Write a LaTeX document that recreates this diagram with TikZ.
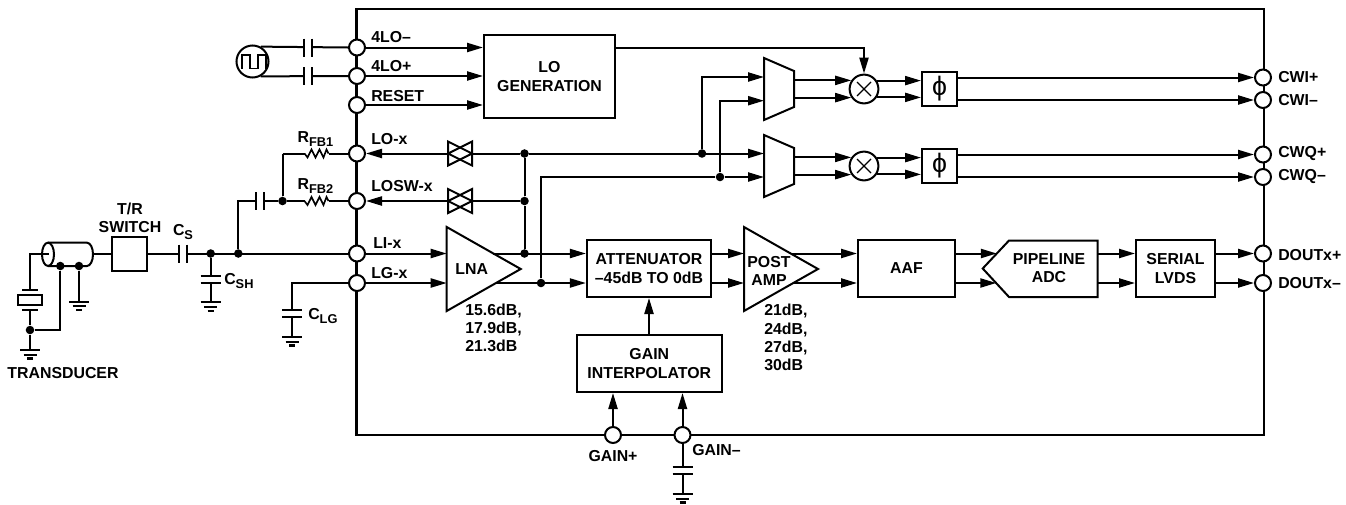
\documentclass[tikz,border=0pt]{standalone}
\usepackage{fontspec}
\setmainfont{Liberation Sans}
\usetikzlibrary{arrows.meta}
\newcommand{\lowtxt}[1]{\raisebox{-2.6pt}{\fontsize{9.6}{9.6}\selectfont #1}}
\tikzset{
    every node/.style={font=\fontsize{11.9}{13.6}\selectfont\bfseries},
    wire/.style={line width=1.5pt},
    sig/.style={wire, -{Triangle[length=12pt,width=6.8pt]}},
    blk/.style={draw, line width=1.5pt, align=center, inner sep=0pt},
    pinc/.style={draw, circle, fill=white, line width=1.5pt, inner sep=0pt, minimum size=12pt},
    dot/.style={fill, circle, inner sep=0pt, minimum size=6.4pt},
    lbl/.style={anchor=west, inner sep=0pt},
    txt/.style={align=center, inner sep=0pt},
    mixer/.style={draw, circle, line width=1.5pt, inner sep=0pt, minimum size=21.6pt,
        path picture={\draw[line width=1pt] (path picture bounding box.center)+(-7,-7)--+(7,7)
            (path picture bounding box.center)+(-7,7)--+(7,-7);}},
    gnd/.pic={\draw[line width=1.5pt] (-10,0)--(10,0) (-6.5,4.5)--(6.5,4.5);
        \draw[line width=1.7pt] (-3,8.5)--(3,8.5);},
    caph/.pic={\fill[white] (-4,-9) rectangle (4,9);
        \draw[line width=1.5pt] (-4,-9)--(-4,9) (4,-9)--(4,9);},
    capv/.pic={\fill[white] (-10,-3.5) rectangle (10,3.5);
        \draw[line width=1.5pt] (-10,-3.5)--(10,-3.5) (-10,3.5)--(10,3.5);},
    res/.pic={\fill[white] (-12,-5) rectangle (12,5);
        \draw[line width=1.2pt] (-12,0)--(-9,4)--(-5,-4)--(-1,4)--(3,-4)--(7,4)--(10,-4)--(12,0);},
    tgate/.pic={\filldraw[fill=white, line width=1.5pt] (-12,-12)--(-12,12)--(12,0)--cycle;
        \draw[line width=1.5pt] (12,-12)--(12,12)--(-12,0)--cycle;}
}

\begin{document}
\begin{tikzpicture}[x=0.75pt,y=-0.75pt]
\useasboundingbox (0,0) rectangle (1346,504);
\node[draw, line width=2.2pt, minimum width=680.6pt, minimum height=319.5pt] (chip) at (810.25,222) {};

% pins of the chip
\node[pinc] (lom) at (357,47.5) {};
\node[pinc] (lop) at (357,76) {};
\node[pinc] (rst) at (357,105) {};
\node[pinc] (lox) at (357,153.5) {};
\node[pinc] (losw) at (357,201) {};
\node[pinc] (lix) at (357,253.5) {};
\node[pinc] (lgx) at (357,283) {};
\node[pinc] (cwip) at (1263,77.5) {};
\node[pinc] (cwim) at (1263,100) {};
\node[pinc] (cwqp) at (1263,154.5) {};
\node[pinc] (cwqm) at (1263,177) {};
\node[pinc] (doutp) at (1263,253.5) {};
\node[pinc] (doutm) at (1263,283) {};
\node[pinc] (gainp) at (613,435) {};
\node[pinc] (gainm) at (682.5,435) {};

\node[lbl] (tlom) at (371,37) {4LO–};
\node[lbl] (tlop) at (371,66) {4LO+};
\node[lbl] (trst) at (371,96) {RESET};
\node[lbl] (tlox) at (371,139) {LO-x};
\node[lbl] (tlosw) at (371,186) {LOSW-x};
\node[lbl] (tlix) at (373,243) {LI-x};
\node[lbl] (tlgx) at (371,273) {LG-x};
\node[lbl] (tcwip) at (1278,77) {CWI+};
\node[lbl] (tcwim) at (1278,100) {CWI–};
\node[lbl] (tcwqp) at (1278,154) {CWQ+};
\node[lbl] (tcwqm) at (1278,177) {CWQ–};
\node[lbl] (tdoutp) at (1278,255) {DOUTx+};
\node[lbl] (tdoutm) at (1278,283) {DOUTx–};
\node[txt] (tgainp) at (613,456) {GAIN+};
\node[lbl] (tgainm) at (692,450) {GAIN–};

% blocks
\node[blk, minimum width=98.25pt, minimum height=62.25pt] (lgen) at (549.5,76.5) {LO\\GENERATION};
\node[blk, minimum width=93.2pt, minimum height=42.75pt] (att) at (649,268.5) {ATTENUATOR\\–45dB TO 0dB};
\node[blk, minimum width=72.75pt, minimum height=42.75pt] (aaf) at (906.5,268.5) {AAF};
\node[blk, minimum width=59.25pt, minimum height=42.75pt] (ser) at (1175.5,268.5) {SERIAL\\LVDS};
\node[blk, minimum width=109pt, minimum height=42.75pt] (gint) at (649.3,363.5) {GAIN\\INTERPOLATOR};
\node[blk, minimum width=26.25pt, minimum height=25.5pt, font=\fontsize{20}{20}\selectfont] (phia) at (939.5,89) {ϕ};
\node[blk, minimum width=26.25pt, minimum height=25.5pt, font=\fontsize{20}{20}\selectfont] (phib) at (939.5,166) {ϕ};
\node[blk, minimum width=26.5pt, minimum height=25.3pt] (txsw) at (129.7,254) {};
\node[mixer] (mxa) at (864,89) {};
\node[mixer] (mxb) at (864,166) {};
\node[txt] (ttxsw) at (130,218) {T/R\\SWITCH};

% amplifiers, muxes and the adc
\draw[line width=1.5pt] (446.7,227)--(520.7,269)--(446.7,311)--cycle;
\draw[line width=1.5pt] (744,227)--(818,269)--(744,311)--cycle;
\draw[line width=1.5pt] (764,58)--(794,71)--(794,107)--(764,120)--cycle;
\draw[line width=1.5pt] (764,135)--(794,148)--(794,184)--(764,197)--cycle;
\draw[line width=1.5pt] (982.7,268.5)--(1009,240.5)--(1097.7,240.5)--(1097.7,297)--(1009,297)--cycle;
\node[txt] (tlna) at (471.7,269) {LNA};
\node[txt] (tpost) at (769,271) {POST\\AMP};
\node[txt] (tadc) at (1049,268.5) {PIPELINE\\ADC};
\node[lbl] (tlnag) at (465,328) {\parbox[c]{60pt}{15.6dB,\\17.9dB,\\21.3dB}};
\node[lbl] (tpostg) at (764,337.5) {\parbox[c]{60pt}{21dB,\\24dB,\\27dB,\\30dB}};

\coordinate (lnao1) at (493.4,253.5);
\coordinate (lnao2) at (496,283);
\coordinate (posti1) at (744,253.5);
\coordinate (posti2) at (744,283);
\coordinate (posto1) at (790.7,253.5);
\coordinate (posto2) at (793.3,283);
\coordinate (adci1) at (996.8,253.5);
\coordinate (adci2) at (996.3,283);
\coordinate (adco1) at (1097.7,253.5);
\coordinate (adco2) at (1097.7,283);
\coordinate (muxai1) at (764,77);
\coordinate (muxai2) at (764,100.7);
\coordinate (muxbi1) at (764,153.5);
\coordinate (muxbi2) at (764,177);
\coordinate (muxae) at (794,81);
\coordinate (muxbe) at (794,158);
\coordinate (lnai) at (446.7,269);
\node[dot] (dlo) at (524.5,153.5) {};
\node[dot] (dsw) at (524.5,201) {};
\node[dot] (dli) at (524.5,253.5) {};
\node[dot] (dlg) at (541,283) {};
\node[dot] (dmi) at (702,153.5) {};
\node[dot] (dqi) at (720,177) {};

% signal path inside the chip
\draw[sig] (lom.east) -- (lom -| lgen.west);
\draw[sig] (lop.east) -- (lop -| lgen.west);
\draw[sig] (rst.east) -- (rst -| lgen.west);
\draw[sig] (lix.east) -- (lix -| lnai);
\draw[sig] (lgx.east) -- (lgx -| lnai);
\draw[sig] (lnao1) -- (lnao1 -| att.west);
\draw[sig] (lnao2) -- (lnao2 -| att.west);
\draw[sig] (posti1 -| att.east) -- (posti1);
\draw[sig] (posti2 -| att.east) -- (posti2);
\draw[sig] (posto1) -- (posto1 -| aaf.west);
\draw[sig] (posto2) -- (posto2 -| aaf.west);
\draw[sig] (adci1 -| aaf.east) -- (adci1);
\draw[sig] (adci2 -| aaf.east) -- (adci2);
\draw[sig] (adco1) -- (adco1 -| ser.west);
\draw[sig] (adco2) -- (adco2 -| ser.west);
\draw[sig] (doutp -| ser.east) -- (doutp.west);
\draw[sig] (doutm -| ser.east) -- (doutm.west);
\draw[sig] (gint.north -| att.south) -- (att.south);
\draw[sig] (gainp.north) -- (gainp |- gint.south);
\draw[sig] (gainm.north) -- (gainm |- gint.south);

\draw[sig] (lgen.east |- lom) -| (mxa.north);
\draw[sig] (dlo) -- (lox.east);
\draw[sig] (dsw) -- (losw.east);
\draw[wire] (dlo) -- (dsw) -- (dli);
\draw[sig] (dlo) -- (muxbi1);
\draw[wire] (dlg) |- (dqi);
\draw[sig] (dqi) -- (muxbi2);
\draw[sig] (dmi) |- (muxai1);
\draw[sig] (dqi) |- (muxai2);
\pic at (460,153.5) {tgate};
\pic at (460,201) {tgate};

\draw[sig] (mxa.146.5 -| muxae) -- (mxa.146.5);
\draw[sig] (mxa.-146.5 -| muxae) -- (mxa.-146.5);
\draw[sig] (mxb.146.5 -| muxbe) -- (mxb.146.5);
\draw[sig] (mxb.-146.5 -| muxbe) -- (mxb.-146.5);
\draw[sig] (mxa.33.5) -- (mxa.33.5 -| phia.west);
\draw[sig] (mxa.-33.5) -- (mxa.-33.5 -| phia.west);
\draw[sig] (mxb.33.5) -- (mxb.33.5 -| phib.west);
\draw[sig] (mxb.-33.5) -- (mxb.-33.5 -| phib.west);
\draw[sig] (cwip -| phia.east) -- (cwip.west);
\draw[sig] (cwim -| phia.east) -- (cwim.west);
\draw[sig] (cwqp -| phib.east) -- (cwqp.west);
\draw[sig] (cwqm -| phib.east) -- (cwqm.west);

% clock source
\node[draw, circle, line width=1.5pt, inner sep=0pt, minimum size=24pt] (clk) at (252.5,61.5) {};
\draw[line width=1.2pt] (242,68.5)--(242,55)--(250,55)--(250,68.5)--(258,68.5)--(258,55)--(266,55)--(266,68.5);
\draw[wire] (clk.61) -- (lom.west);
\draw[wire] (clk.-61) -- (lop.west);
\pic at (308,47.5) {caph};
\pic at (308,76) {caph};

% feedback
\node[dot] (dfb) at (282.5,201) {};
\node[dot] (dsh) at (210.7,253.5) {};
\node[dot] (dcp) at (238.3,253.5) {};
\coordinate (fbtop) at (282.5,153.5);
\coordinate (cptop) at (238.3,201);
\draw[wire] (fbtop) -- (lox.west);
\draw[wire] (dfb) -- (losw.west);
\draw[wire] (dfb) -- (fbtop);
\draw[wire] (dcp) -- (cptop) -- (dfb);
\pic at (316.5,153.5) {res};
\pic at (316.5,201) {res};
\pic at (259.5,201) {caph};
\node[txt] (trfb1) at (315.5,139) {R\lowtxt{FB1}};
\node[txt] (trfb2) at (315.5,186) {R\lowtxt{FB2}};

% input side
\draw[wire] (txsw.east |- lix) -- (lix.west);
\pic at (182.6,253.5) {caph};
\node[txt] (tcs) at (183,232) {C\lowtxt{S}};
\coordinate (gsh) at (210.7,302.3);
\draw[wire] (dsh) -- (gsh);
\pic at (210.7,279.5) {capv};
\pic at (gsh) {gnd};
\node[lbl] (tcsh) at (224,281) {C\lowtxt{SH}};

\coordinate (lgc) at (292,283);
\coordinate (glg) at (292,337);
\draw[wire] (lgx.west) -- (lgc) -- (glg);
\pic at (292,313.5) {capv};
\pic at (glg) {gnd};
\node[lbl] (tclg) at (308,316) {C\lowtxt{LG}};

\coordinate (ggn) at (682.5,494);
\draw[wire] (gainm.south) -- (ggn);
\pic at (682.5,470) {capv};
\pic at (ggn) {gnd};

% transducer
\draw[wire, fill=white] (48,242.7) -- (87,242.7) arc (-90:90:6 and 11.65) -- (48,266);
\draw[wire, fill=white] (48,254.3) ellipse (6 and 11.65);
\coordinate (coaxe) at (93,254);
\coordinate (coaxi) at (49,254);
\coordinate (xtop) at (30,254);
\coordinate (xplt) at (30,290);
\coordinate (xplb) at (30,310);
\coordinate (xgnd) at (30,350);
\coordinate (sgnd) at (79,301.7);
\coordinate (sret) at (60.3,330);
\node[blk, minimum width=18pt, minimum height=7.5pt] (xtal) at (30,300) {};
\node[dot] (ds1) at (60.3,266) {};
\node[dot] (ds2) at (79,266) {};
\node[dot] (dxg) at (30,330) {};
\draw[wire] (coaxe) -- (txsw.west);
\draw[wire] (coaxi) -- (xtop) -- (xplt);
\draw[wire] (xplb) -- (dxg) -- (xgnd);
\draw[wire] (dxg) -- (sret) -- (ds1);
\draw[wire] (ds2) -- (sgnd);
\draw[wire] (22,290)--(38,290) (22,310)--(38,310);
\pic at (xgnd) {gnd};
\pic at (sgnd) {gnd};
\node[txt] (ttrans) at (63,373) {TRANSDUCER};
\end{tikzpicture}
\end{document}
